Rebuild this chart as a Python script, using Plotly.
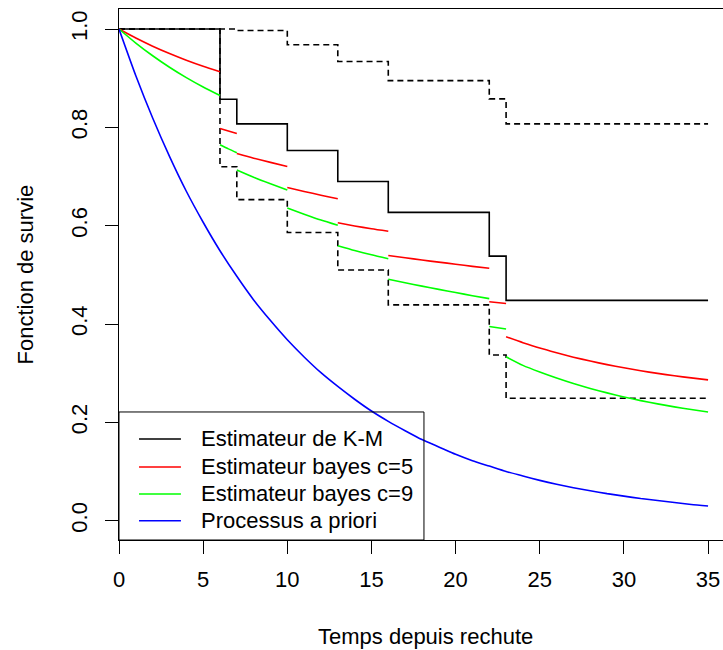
import plotly.graph_objects as go

# ---------------- data ----------------
km_times = [0, 6, 7, 10, 13, 16, 22, 23, 35]
km_surv = [1.0, 0.857, 0.807, 0.753, 0.690, 0.627, 0.538, 0.448, 0.448]

upper_times = [0, 7, 10, 13, 16, 22, 23, 35]
upper_surv = [1.0, 0.997, 0.968, 0.934, 0.895, 0.858, 0.807, 0.807]

lower_times = [0, 6, 7, 10, 13, 16, 22, 23, 35]
lower_surv = [1.0, 0.720, 0.653, 0.586, 0.510, 0.439, 0.337, 0.249, 0.249]

# Bayes estimator c=5 (red), piecewise segments separated by None
bayes5_t = [0, 1, 2, 3, 4, 5, 6, None,
            6, 6.5, 7, None,
            7, 8, 9, 10, None,
            10, 11, 12, 13, None,
            13, 14, 15, 16, None,
            16, 17, 18, 19, 20, 21, 22, None,
            22, 23, None,
            23, 24, 25, 26, 27, 28, 29, 30, 31, 32, 33, 34, 35]
bayes5_s = [1.0, 0.9817, 0.9651, 0.9502, 0.9366, 0.9243, 0.9132, None,
            0.7978, 0.7924, 0.7873, None,
            0.7469, 0.7373, 0.7287, 0.7204, None,
            0.6777, 0.6697, 0.6619, 0.6549, None,
            0.6059, 0.5995, 0.5937, 0.5886, None,
            0.5395, 0.5348, 0.5301, 0.5259, 0.5216, 0.5173, 0.5133, None,
            0.4453, 0.4418, None,
            0.374, 0.362, 0.351, 0.3415, 0.3326, 0.3246, 0.3174, 0.3109,
            0.3049, 0.2996, 0.2947, 0.2904, 0.2864]

# Bayes estimator c=9 (green)
bayes9_t = bayes5_t
bayes9_s = [1.0, 0.9714, 0.9456, 0.9222, 0.9011, 0.8820, 0.8646, None,
            0.7646, 0.7562, 0.7483, None,
            0.7134, 0.6986, 0.6852, 0.6724, None,
            0.6357, 0.6234, 0.6115, 0.6008, None,
            0.5592, 0.5495, 0.5407, 0.5328, None,
            0.4912, 0.4840, 0.4770, 0.4705, 0.4641, 0.4575, 0.4516, None,
            0.3951, 0.3898, None,
            0.3333, 0.3159, 0.3024, 0.2902, 0.2790, 0.2690, 0.2599, 0.2517,
            0.2442, 0.2376, 0.2315, 0.2260, 0.2210]

# Prior process (blue)
prior_t = list(range(0, 36))
prior_s = [1.000, 0.905, 0.819, 0.741, 0.670, 0.607, 0.549, 0.497, 0.449, 0.407,
           0.368, 0.333, 0.301, 0.273, 0.247, 0.223, 0.202, 0.183, 0.165, 0.150,
           0.135, 0.122, 0.111, 0.100, 0.091, 0.082, 0.074, 0.067, 0.061, 0.055,
           0.050, 0.045, 0.041, 0.037, 0.033, 0.030]

x_ticks = [0, 5, 10, 15, 20, 25, 30, 35]
y_ticks = [0.0, 0.2, 0.4, 0.6, 0.8, 1.0]

legend_labels = ["Estimateur de K-M", "Estimateur bayes c=5",
                 "Estimateur bayes c=9", "Processus a priori"]
legend_colors = ["black", "#FF0000", "#00FF00", "#0000FF"]

FONT = "Liberation Sans, Arial, sans-serif"
FS = 22
LW = 1.6

fig = go.Figure()

dash = "6px,4px"
fig.add_trace(go.Scatter(x=upper_times, y=upper_surv, mode="lines",
                         line=dict(color="black", width=LW, dash=dash, shape="hv"),
                         showlegend=False, hoverinfo="skip"))
fig.add_trace(go.Scatter(x=lower_times, y=lower_surv, mode="lines",
                         line=dict(color="black", width=LW, dash=dash, shape="hv"),
                         showlegend=False, hoverinfo="skip"))
fig.add_trace(go.Scatter(x=km_times, y=km_surv, mode="lines", name=legend_labels[0],
                         line=dict(color="black", width=LW, shape="hv"),
                         showlegend=False))
fig.add_trace(go.Scatter(x=bayes5_t, y=bayes5_s, mode="lines", name=legend_labels[1],
                         line=dict(color="#FF0000", width=LW, shape="spline", smoothing=0.6),
                         connectgaps=False, showlegend=False))
fig.add_trace(go.Scatter(x=bayes9_t, y=bayes9_s, mode="lines", name=legend_labels[2],
                         line=dict(color="#00FF00", width=LW, shape="spline", smoothing=0.6),
                         connectgaps=False, showlegend=False))
fig.add_trace(go.Scatter(x=prior_t, y=prior_s, mode="lines", name=legend_labels[3],
                         line=dict(color="#0000FF", width=LW, shape="spline", smoothing=0.6),
                         showlegend=False))

# ---------------- layout ----------------
W, H = 723, 650
L, R, T, B = 119, 0, 9, 110
plot_w = W - L - R
plot_h = H - T - B
px_per_x = 16.83
x_max = plot_w / px_per_x
y_lo, y_hi = -0.0393, 1.0407

shapes = []
annotations = []

# legend box
leg_x1 = 18.12
leg_y1 = 0.2211
shapes.append(dict(type="rect", xref="x", yref="y", x0=0, x1=leg_x1,
                   y0=y_lo, y1=leg_y1, line=dict(color="black", width=1),
                   fillcolor="rgba(0,0,0,0)", layer="above"))
row_y = [0.1662, 0.1092, 0.0543, 0.0]
for lab, col, yy in zip(legend_labels, legend_colors, row_y):
    shapes.append(dict(type="line", xref="x", yref="y", x0=1.19, x1=3.68,
                       y0=yy, y1=yy, line=dict(color=col, width=LW)))
    annotations.append(dict(x=4.75, y=yy, xref="x", yref="y", text=lab,
                            showarrow=False, xanchor="left", yanchor="middle",
                            font=dict(family=FONT, size=FS, color="black")))

# axis titles
annotations.append(dict(x=(425 - L) / plot_w, y=(T + plot_h - 636) / plot_h,
                        xref="paper", yref="paper", text="Temps depuis rechute",
                        showarrow=False, xanchor="center", yanchor="middle",
                        font=dict(family=FONT, size=FS, color="black")))
annotations.append(dict(x=(25 - L) / plot_w, y=0.5,
                        xref="paper", yref="paper", text="Fonction de survie",
                        showarrow=False, xanchor="center", yanchor="middle",
                        textangle=-90,
                        font=dict(family=FONT, size=FS, color="black")))

fig.update_layout(
    width=W, height=H,
    margin=dict(l=L, r=R, t=T, b=B, pad=0),
    paper_bgcolor="white", plot_bgcolor="white",
    font=dict(family=FONT, size=FS, color="black"),
    showlegend=False,
    shapes=shapes, annotations=annotations,
    xaxis=dict(range=[0, x_max], tickmode="array", tickvals=x_ticks,
               ticktext=[str(v) for v in x_ticks],
               showgrid=False, zeroline=False, showline=True, linecolor="black",
               linewidth=1, mirror=True, ticks="outside", ticklen=13,
               tickwidth=1, tickcolor="black", ticklabelstandoff=7,
               tickfont=dict(family=FONT, size=FS, color="black")),
    yaxis=dict(range=[y_lo, y_hi], tickmode="array", tickvals=y_ticks,
               ticktext=["%.1f" % v for v in y_ticks], tickangle=-90,
               showgrid=False, zeroline=False, showline=True, linecolor="black",
               linewidth=1, ticks="outside", ticklen=13, tickwidth=1,
               tickcolor="black", ticklabelstandoff=9,
               tickfont=dict(family=FONT, size=FS, color="black")),
)

fig.write_html("out.html")
